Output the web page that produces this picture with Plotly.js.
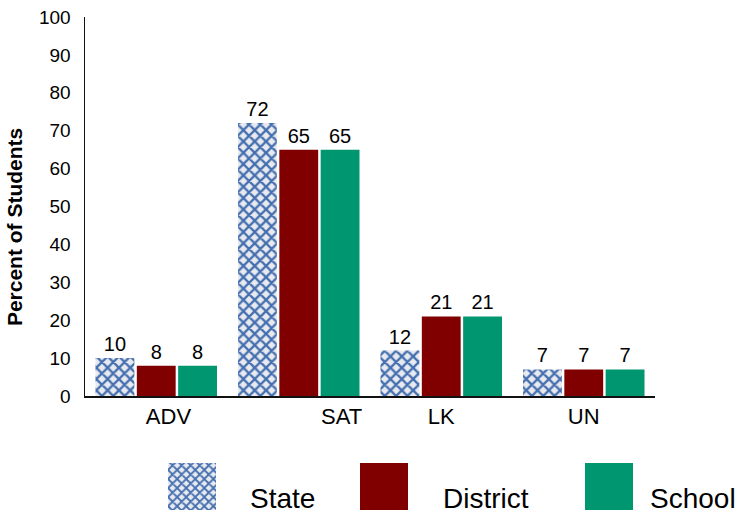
<!DOCTYPE html>
<html>
<head>
<meta charset="utf-8">
<script src="https://cdn.plot.ly/plotly-3.0.1.min.js"></script>
<style>html,body{margin:0;padding:0;background:#fff;}#chart{width:735px;height:514px;}</style>
</head>
<body>
<div id="chart"></div>
<script>
const categories = ['ADV', 'SAT', 'LK', 'UN'];
const seriesNames = ['State', 'District', 'School'];
const stateValues = [10, 72, 12, 7];
const districtValues = [8, 65, 21, 7];
const schoolValues = [8, 65, 21, 7];
const yAxisTitle = 'Percent of Students';

const FONT = 'Liberation Sans, Arial, Helvetica, sans-serif';
// leading non-breaking spaces shift the category labels as in the reference
const labelPad = [4, 14, 0, 0];
const tickText = categories.map((c, i) => '\u00a0'.repeat(labelPad[i]) + c);
// trailing non-breaking spaces move the rotated title slightly down, as in the reference
const titleText = yAxisTitle + '\u00a0'.repeat(7) + '\u200b';

const valueFont = {family: FONT, size: 20, color: '#000'};

const traces = [
  {
    type: 'bar', name: seriesNames[0], x: categories, y: stateValues,
    text: stateValues.map(String), textposition: 'outside', textfont: valueFont,
    cliponaxis: false,
    marker: {color: '#e9eaef', line: {width: 0},
      pattern: {shape: 'x', fgcolor: '#4570b0', bgcolor: '#e9eaef', size: 8, solidity: 0.5, fillmode: 'replace'}},
    hoverinfo: 'none'
  },
  {
    type: 'bar', name: seriesNames[1], x: categories, y: districtValues,
    text: districtValues.map(String), textposition: 'outside', textfont: valueFont,
    cliponaxis: false,
    marker: {color: '#800000', line: {width: 0}}, hoverinfo: 'none'
  },
  {
    type: 'bar', name: seriesNames[2], x: categories, y: schoolValues,
    text: schoolValues.map(String), textposition: 'outside', textfont: valueFont,
    cliponaxis: false,
    marker: {color: '#009670', line: {width: 0}}, hoverinfo: 'none'
  }
];

const layout = {
  width: 735, height: 514,
  margin: {l: 85, r: 80, t: 17, b: 118, pad: 0},
  paper_bgcolor: '#fff', plot_bgcolor: '#fff',
  font: {family: FONT, color: '#000'},
  barmode: 'group', bargap: 0.13, bargroupgap: 0.06,
  showlegend: true,
  legend: {orientation: 'h', x: 0.12, xanchor: 'left', y: -0.12, yanchor: 'top',
    font: {family: FONT, size: 28, color: '#000'}, itemwidth: 90,
    bgcolor: 'rgba(0,0,0,0)', borderwidth: 0, traceorder: 'normal'},
  xaxis: {
    type: 'category', tickvals: categories, ticktext: tickText,
    showline: true, linecolor: '#111', linewidth: 1.5, ticks: '',
    showgrid: false, zeroline: false,
    tickfont: {family: FONT, size: 22, color: '#000'}, fixedrange: true
  },
  yaxis: {
    range: [0, 100], dtick: 10, tick0: 0,
    showline: true, linecolor: '#111', linewidth: 1.5, ticks: '',
    showgrid: false, zeroline: false, ticklabelstandoff: 9,
    tickfont: {family: FONT, size: 19, color: '#000'},
    title: {text: titleText, font: {family: FONT, size: 21, weight: 'bold', color: '#000'}, standoff: 10},
    fixedrange: true
  }
};

// legend swatch targets (page pixels) to reproduce the large legend keys
const legendKeys = [
  {sx: 168, textX: 250},
  {sx: 360, textX: 443},
  {sx: 585, textX: 650}
];
const swatchTop = 463, swatchSize = 47, textTop = 483;

Plotly.newPlot('chart', traces, layout, {staticPlot: true, displayModeBar: false}).then(gd => {
  const sb = gd.querySelector('.legend .scrollbox');
  if (sb) sb.removeAttribute('clip-path');
  const items = gd.querySelectorAll('.legend .traces');
  items.forEach((tr, i) => {
    const key = legendKeys[i];
    if (!key) return;
    const txt = tr.querySelector('text.legendtext');
    const tf = tr.getAttribute('transform') || '';
    const m = tf.match(/translate\(\s*([-\d.]+)[ ,]+([-\d.]+)\s*\)/);
    let tx = m ? parseFloat(m[1]) : 0, ty = m ? parseFloat(m[2]) : 0;
    if (txt) {
      const r = txt.getBoundingClientRect();
      tx += key.textX - r.left;
      ty += textTop - r.top;
      tr.setAttribute('transform', 'translate(' + tx + ',' + ty + ')');
    }
    const path = tr.querySelector('.legendpoints path');
    if (path) {
      path.removeAttribute('transform');
      const ctm = path.parentNode.getScreenCTM().inverse();
      const p1 = new DOMPoint(key.sx, swatchTop).matrixTransform(ctm);
      const p2 = new DOMPoint(key.sx + swatchSize + 1, swatchTop + swatchSize).matrixTransform(ctm);
      path.setAttribute('d', 'M' + p1.x + ',' + p1.y + 'H' + p2.x + 'V' + p2.y + 'H' + p1.x + 'Z');
    }
  });
});
</script>
</body>
</html>
